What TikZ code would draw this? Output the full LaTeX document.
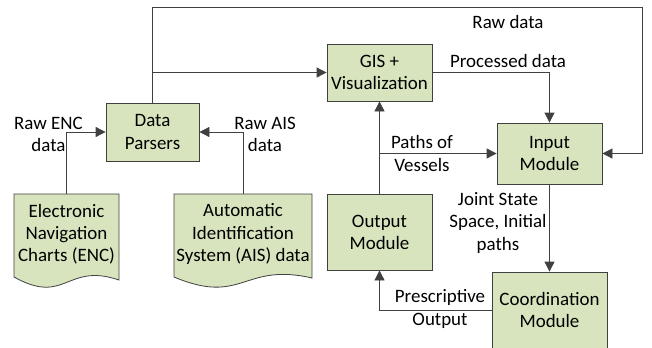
\documentclass[tikz,border=0pt]{standalone}
\usepackage{fontspec}
\setmainfont{Carlito}
\usepackage{tkz-euclide}
\usetikzlibrary{arrows.meta}
\definecolor{boxgreen}{HTML}{D7E4BD}
\definecolor{linegray}{HTML}{404040}
\tikzset{
  every node/.style={font=\fontsize{14.2}{16.6}\selectfont},
  box/.style={draw=linegray,fill=boxgreen,align=center,inner sep=0pt},
  lbl/.style={align=center,inner sep=0pt},
  arr/.style={draw=linegray,-{Triangle[length=7.5pt,width=7.5pt]}},
}
\begin{document}
\begin{tikzpicture}[x=0.75pt,y=-0.75pt,semithick]
\useasboundingbox(0,0)rectangle(652,347);
\filldraw[fill=boxgreen,draw=linegray](14,194)--(119,194)--(119,280)..controls(66,262)and(66,306)..(14,277)--cycle;
\filldraw[fill=boxgreen,draw=linegray](174,194)--(312,194)--(312,278)..controls(243,262)and(243,306)..(174,277)--cycle;
\node[lbl,minimum width=78.75pt,minimum height=60pt](ENC)at(66.5,234){Electronic\\Navigation\\Charts (ENC)};
\node[lbl,minimum width=103.5pt,minimum height=60pt](AIS)at(243,234){Automatic\\Identification\\System (AIS) data};
\node[box,minimum width=69.75pt,minimum height=43.5pt](DP)at(152.5,132){Data\\Parsers};
\node[box,minimum width=78.75pt,minimum height=42.75pt](GIS)at(379.5,72.5){GIS +\\Visualization};
\node[box,minimum width=78.75pt,minimum height=45.75pt](IM)at(549.5,153.5){Input\\Module};
\node[box,minimum width=78.75pt,minimum height=57pt](OM)at(379.5,232){Output\\Module};
\node[box,minimum width=86.25pt,minimum height=57pt](CM)at(549.5,310){Coordination\\Module};
\tkzDefPoints{642/7/R}
\draw[arr](ENC.north)|-(DP.west);
\draw[arr](AIS.north)|-(DP.east);
\draw[arr](DP.north)|-(GIS.west);
\draw[arr](DP.north)|-(R)|-(IM.east);
\draw[arr](GIS.east)-|(IM.north);
\draw[arr](OM.north)--(GIS.south);
\draw[arr](OM.north|-IM.west)--(IM.west);
\draw[arr](IM.south)--(CM.north);
\draw[arr](CM.west)-|(OM.south);
\node[lbl](rawenc)at(48.5,134.5){Raw ENC\\data};
\node[lbl](rawais)at(265,134.5){Raw AIS\\data};
\node[lbl](rawdata)at(508,22){Raw data};
\node[lbl](procdata)at(508,61){Processed data};
\node[lbl](paths)at(422,153.5){Paths of\\Vessels};
\node[lbl](jss)at(498,223){Joint State\\Space, Initial\\paths};
\node[lbl](presc)at(440,309){Prescriptive\\Output};
\end{tikzpicture}
\end{document}
